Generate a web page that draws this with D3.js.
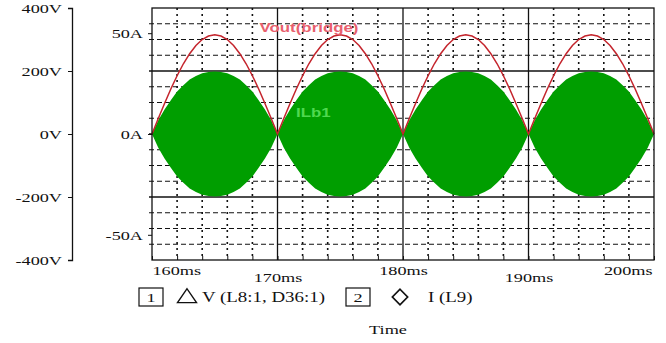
<!DOCTYPE html>
<html>
<head>
<meta charset="utf-8">
<script src="https://cdn.jsdelivr.net/npm/d3@7"></script>
<style>
body{margin:0;background:#fff;}
svg{display:block;}
text{font-family:"Liberation Serif","Times New Roman",serif;}
</style>
</head>
<body>
<svg width="666" height="343"></svg>
<script>
// sample times (ms)
var timeMs = [160,160.5,161,161.5,162,162.5,163,163.5,164,164.5,165,165.5,166,166.5,167,167.5,168,168.5,169,169.5,
              170,170.5,171,171.5,172,172.5,173,173.5,174,174.5,175,175.5,176,176.5,177,177.5,178,178.5,179,179.5,
              180,180.5,181,181.5,182,182.5,183,183.5,184,184.5,185,185.5,186,186.5,187,187.5,188,188.5,189,189.5,
              190,190.5,191,191.5,192,192.5,193,193.5,194,194.5,195,195.5,196,196.5,197,197.5,198,198.5,199,199.5,200];
// Vout(bridge) in V
var vout = [0,49,97,143,185,223,255,281,300,311,315,311,300,281,255,223,185,143,97,49,
            0,49,97,143,185,223,255,281,300,311,315,311,300,281,255,223,185,143,97,49,
            0,49,97,143,185,223,255,281,300,311,315,311,300,281,255,223,185,143,97,49,
            0,49,97,143,185,223,255,281,300,311,315,311,300,281,255,223,185,143,97,49,0];
// ILb1 envelope (peak of the switching current) in A
var ilb1 = [0,6.8,12.1,16.7,21.1,24.2,27,28.8,30.1,30.8,31,30.8,30.1,28.8,27,24.2,21.1,16.7,12.1,6.8,
            0,6.8,12.1,16.7,21.1,24.2,27,28.8,30.1,30.8,31,30.8,30.1,28.8,27,24.2,21.1,16.7,12.1,6.8,
            0,6.8,12.1,16.7,21.1,24.2,27,28.8,30.1,30.8,31,30.8,30.1,28.8,27,24.2,21.1,16.7,12.1,6.8,
            0,6.8,12.1,16.7,21.1,24.2,27,28.8,30.1,30.8,31,30.8,30.1,28.8,27,24.2,21.1,16.7,12.1,6.8,0];

var timeTicks = [160,162,164,166,168,170,172,174,176,178,180,182,184,186,188,190,192,194,196,198,200];
var voltTicks = [-400,-200,0,200,400];
var voltGrid = [-350,-300,-250,-200,-150,-100,-50,0,50,100,150,200,250,300,350];
var ampTicks = [-50,0,50];
var legendItems = ['V (L8:1, D36:1)','I (L9)'];

var svg = d3.select('svg');
var plotLeft = 152, plotRight = 654, plotTop = 8, plotBottom = 260;
var stretch = 1.35;

var x = d3.scaleLinear().domain([160,200]).range([plotLeft,plotRight]);
var yV = d3.scaleLinear().domain([-400,400]).range([plotBottom,plotTop]);
var yI = d3.scaleLinear().domain([-62.5,62.5]).range([plotBottom,plotTop]);

var data = timeMs.map(function(t,i){ return {t:t, v:vout[i], i:ilb1[i]}; });

// grid
svg.selectAll('.hgrid')
    .data(voltGrid)
    .join('line')
    .attr('class','hgrid')
    .attr('x1',plotLeft-3).attr('x2',plotRight)
    .attr('y1',d => yV(d)).attr('y2',d => yV(d))
    .attr('stroke','#111')
    .attr('stroke-width',d => d%200==0 ? 1.3 : 1)
    .attr('stroke-dasharray',d => d%200==0 ? null : '5,3');

svg.selectAll('.vgrid')
    .data(timeTicks.slice(1,-1))
    .join('line')
    .attr('class','vgrid')
    .attr('x1',d => x(d)).attr('x2',d => x(d))
    .attr('y1',plotTop).attr('y2',plotBottom)
    .attr('stroke','#111')
    .attr('stroke-width',d => d%10==0 ? 1.3 : 1.6)
    .attr('stroke-dasharray',d => d%10==0 ? null : '2,4');

// ILb1 current band
svg.append('path')
    .datum(data)
    .attr('d',d3.area().x(d => x(d.t)).y0(d => yI(-d.i)).y1(d => yI(d.i)))
    .attr('fill','#009e00');

// Vout line
svg.append('path')
    .datum(data)
    .attr('d',d3.line().x(d => x(d.t)).y(d => yV(d.v)))
    .attr('fill','none')
    .attr('stroke','#c4242c')
    .attr('stroke-width',1.5);

// trace labels
svg.append('text')
    .attr('x',0).attr('y',0).attr('dy','0.35em')
    .attr('text-anchor','middle')
    .attr('transform','translate(309,28) scale(' + stretch + ',1)')
    .style('font-family','"Liberation Sans",Arial,sans-serif')
    .style('font-weight','bold')
    .style('font-size','12.5px')
    .attr('fill','#e8606e')
    .text('Vout(bridge)');
svg.append('text')
    .attr('x',0).attr('y',0).attr('dy','0.35em')
    .attr('transform','translate(296,113) scale(' + stretch + ',1)')
    .style('font-family','"Liberation Sans",Arial,sans-serif')
    .style('font-weight','bold')
    .style('font-size','12.5px')
    .attr('fill','#4fd84f')
    .text('ILb1');

// frame
svg.append('rect')
    .attr('x',plotLeft).attr('y',plotTop)
    .attr('width',plotRight-plotLeft).attr('height',plotBottom-plotTop)
    .attr('fill','none')
    .attr('stroke','#111')
    .attr('stroke-width',1.3);

function styleText(g, dx){
    g.selectAll('text')
        .style('font-size','13.5px')
        .attr('fill','#111')
        .attr('x',0)
        .attr('transform','translate(' + dx + ',0) scale(' + stretch + ',1)');
    g.select('.domain').attr('stroke','#111').attr('stroke-width',1.3);
    g.selectAll('.tick line').attr('stroke','#111');
}

// voltage axis
var gV = svg.append('g')
    .attr('transform','translate(72,0)')
    .call(d3.axisLeft(yV).tickValues(voltTicks).tickSize(4).tickFormat(d => d + 'V'));
styleText(gV,-10);

// current axis
var gI = svg.append('g')
    .attr('transform','translate(' + plotLeft + ',0)')
    .call(d3.axisLeft(yI).tickValues(ampTicks).tickSize(4).tickSizeOuter(0).tickFormat(d => d + 'A'));
styleText(gI,-9);
gI.select('.domain').remove();

// time axis
var gT = svg.append('g')
    .attr('transform','translate(0,' + plotBottom + ')')
    .call(d3.axisBottom(x).tickValues(timeTicks).tickSizeInner(-4).tickSizeOuter(0)
        .tickFormat(d => d%10==0 ? d + 'ms' : ''));
gT.select('.domain').remove();
gT.selectAll('.tick line').attr('stroke','#111');
gT.selectAll('.tick text')
    .style('font-size','13.5px')
    .attr('fill','#111')
    .attr('x',0)
    .attr('y',0)
    .attr('dy','0.32em')
    .attr('text-anchor',d => d==160 ? 'start' : (d==200 ? 'end' : 'middle'))
    .attr('transform',d => 'translate(' + (d==200 ? -2 : 0) + ',' + ((d/10)%2 ? 18 : 11) + ') scale(' + stretch + ',1)');

// legend
var legend = svg.append('g').attr('transform','translate(0,297)');
var legendX = [139, 346];
legendItems.forEach(function(label,i){
    var lx = legendX[i];
    legend.append('rect')
        .attr('x',lx).attr('y',-9)
        .attr('width',24).attr('height',18)
        .attr('fill','none').attr('stroke','#111').attr('stroke-width',1.2);
    legend.append('text')
        .attr('x',0).attr('y',0).attr('dy','0.35em')
        .attr('text-anchor','middle')
        .attr('transform','translate(' + (lx+12) + ',0) scale(' + stretch + ',1)')
        .style('font-size','13.5px')
        .attr('fill','#111')
        .text(i+1);
    legend.append('path')
        .attr('d',d3.symbol(i==0 ? d3.symbolTriangle : d3.symbolDiamond, i==0 ? 110 : 70)())
        .attr('transform','translate(' + (lx + (i==0 ? 48 : 54)) + ',' + (i==0 ? 1 : 0) + ') scale(' + (i==0 ? 1.2 : 1.7) + ',1)')
        .attr('fill','none').attr('stroke','#111').attr('stroke-width',1.2);
    legend.append('text')
        .attr('x',0).attr('y',0).attr('dy','0.35em')
        .attr('transform','translate(' + (lx + (i==0 ? 63 : 82)) + ',0) scale(' + stretch + ',1)')
        .style('font-size','14px')
        .attr('fill','#111')
        .text(label);
});

svg.append('text')
    .attr('x',0).attr('y',0).attr('dy','0.35em')
    .attr('text-anchor','middle')
    .attr('transform','translate(388,329) scale(' + stretch + ',1)')
    .style('font-size','13.5px')
    .attr('fill','#111')
    .text('Time');
</script>
</body>
</html>
